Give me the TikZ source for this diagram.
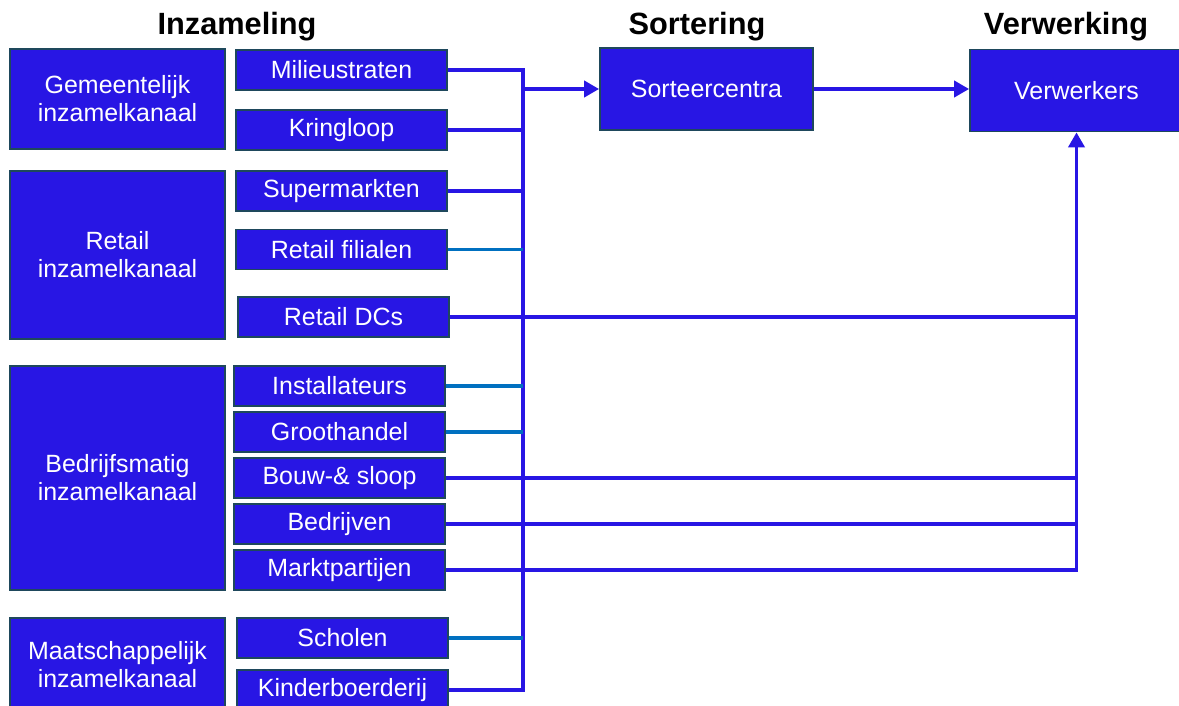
\documentclass[tikz,border=0pt]{standalone}
\usepackage{fontspec}
\setmainfont{Liberation Sans}
\usepackage{tikz}
\usetikzlibrary{arrows.meta,positioning}
\definecolor{vlak}{RGB}{40,22,228}
\definecolor{rand}{RGB}{30,72,92}
\definecolor{licht}{RGB}{0,112,192}
\tikzset{
kanaal/.style={
    rectangle,
    draw=rand,
    fill=vlak,
    line width=1pt,
    text=white,
    align=center,
    inner sep=0pt,
    minimum width=4.3cm,
    font=\fontsize{14.2}{16}\selectfont
},
bron/.style={
    kanaal,
    minimum width=4.22cm,
    minimum height=0.8cm
},
stap/.style={
    kanaal,
    minimum width=4.26cm,
    minimum height=1.64cm
},
kop/.style={
    font=\fontsize{17.5}{20}\selectfont\bfseries,
    inner sep=0pt
},
lijn/.style={
    draw=vlak,
    line width=2.2pt
},
lijnlicht/.style={
    draw=licht,
    line width=2.2pt
},
pijl/.style={
    lijn,
    -{Triangle[length=3mm,width=3.2mm]}
}
}
\begin{document}
\begin{tikzpicture}[x=0.02cm,y=-0.02cm]
\useasboundingbox (0,0) rectangle (1179,706);
\clip (0,0) rectangle (1179,706);
% koppen
\node[kop] (kopinz) at (237,27) {Inzameling};
\node[kop] (kopsor) at (697,27) {Sortering};
\node[kop] (kopver) at (1066,27) {Verwerking};
% inzamelkanalen
\node[kanaal, minimum height=2cm] (gem) at (117.5,99) {Gemeentelijk\\inzamelkanaal};
\node[kanaal, minimum height=3.36cm] (ret) at (117.5,255) {Retail\\inzamelkanaal};
\node[kanaal, minimum height=4.48cm] (bed) at (117.5,478) {Bedrijfsmatig\\inzamelkanaal};
\node[kanaal, minimum height=1.88cm] (maa) at (117.5,665) {Maatschappelijk\\inzamelkanaal};
% bronnen
\node[bron] (mil) at (341.5,70) {Milieustraten};
\node[bron] (kri) at (341.5,130) {Kringloop};
\node[bron] (sup) at (341.5,191) {Supermarkten};
\node[bron] (fil) at (341.5,249.5) {Retail filialen};
\node[bron] (dcs) at (343.5,317) {Retail DCs};
\node[bron] (ins) at (339.5,386) {Installateurs};
\node[bron] (gro) at (339.5,432) {Groothandel};
\node[bron] (bou) at (339.5,478) {Bouw-\& sloop};
\node[bron] (bdr) at (339.5,524) {Bedrijven};
\node[bron] (mar) at (339.5,570) {Marktpartijen};
\node[bron] (sch) at (342.5,638) {Scholen};
\node[bron] (kin) at (342.5,690) {Kinderboerderij};
% sortering en verwerking
\node[stap] (sor) at (706.5,89) {Sorteercentra};
\node[stap] (ver) at (1076.5,90.5) {Verwerkers};
\coordinate (bus) at (523,0);

\draw[lijn] (mil.east) -- (mil.east -| bus) -- (kin.east -| bus) -- (kin.east);
\draw[lijn] (kri.east) -- (kri.east -| bus);
\draw[lijn] (sup.east) -- (sup.east -| bus);
\draw[lijnlicht] (fil.east) -- (fil.east -| bus);
\draw[lijnlicht] (ins.east) -- (ins.east -| bus);
\draw[lijnlicht] (gro.east) -- (gro.east -| bus);
\draw[lijnlicht] (sch.east) -- (sch.east -| bus);
\draw[pijl] (sor.west -| bus) -- (sor.west);
\draw[pijl] (sor.east) -- (sor.east -| ver.west);
\draw[lijn] (dcs.east) -- (dcs.east -| ver.south);
\draw[lijn] (bou.east) -- (bou.east -| ver.south);
\draw[lijn] (bdr.east) -- (bdr.east -| ver.south);
\draw[pijl] (mar.east) -| (ver.south);

\end{tikzpicture}
\end{document}
